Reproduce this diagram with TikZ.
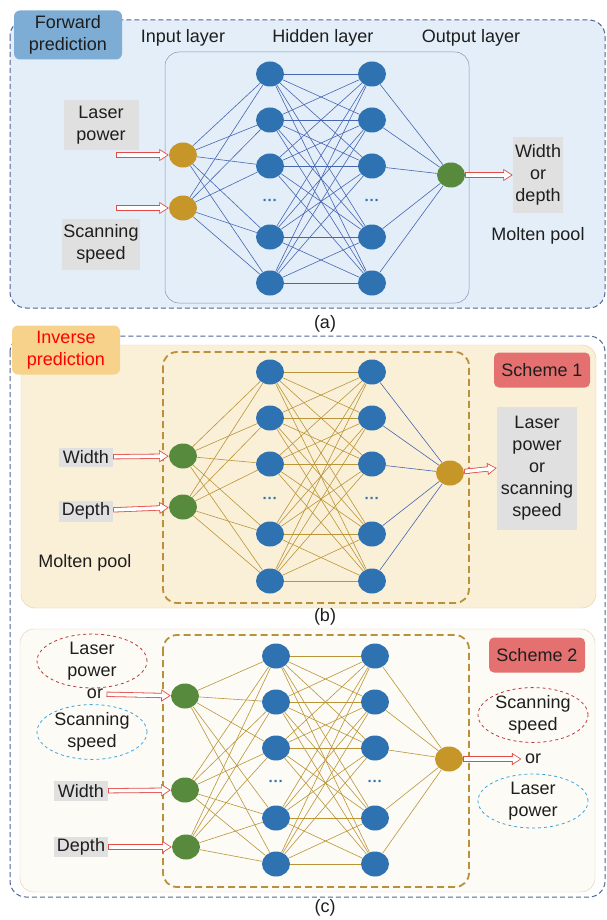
\documentclass[tikz,border=0pt]{standalone}
\usepackage{fontspec}
\setmainfont{Liberation Sans}
\usetikzlibrary{shapes.geometric,arrows.meta}
\definecolor{nnblue}{RGB}{46,114,178}
\definecolor{nngold}{RGB}{198,150,40}
\definecolor{nngreen}{RGB}{88,138,62}
\definecolor{edgeblue}{RGB}{70,102,178}
\definecolor{edgegold}{RGB}{186,148,56}
\definecolor{frameblue}{RGB}{80,100,150}
\definecolor{panelblue}{RGB}{227,238,248}
\definecolor{tagblue}{RGB}{125,172,212}
\definecolor{panelcream}{RGB}{250,240,216}
\definecolor{tagorange}{RGB}{246,210,138}
\definecolor{panelwhite}{RGB}{253,251,246}
\definecolor{framebrown}{RGB}{185,145,60}
\definecolor{framebeige}{RGB}{228,202,168}
\definecolor{schemered}{RGB}{228,112,112}
\definecolor{boxgray}{RGB}{224,224,224}
\definecolor{arrowred}{RGB}{225,75,70}
\definecolor{ellred}{RGB}{190,55,55}
\definecolor{ellblue}{RGB}{60,165,215}
\definecolor{txt}{RGB}{30,30,30}

\tikzset{
  neuron/.style={ellipse, minimum width=28pt, minimum height=25pt, inner sep=0pt},
  hid/.style={neuron, fill=nnblue},
  gold/.style={neuron, fill=nngold},
  grn/.style={neuron, fill=nngreen},
  bedge/.style={edgeblue, line width=0.6pt},
  gedge/.style={edgegold, line width=0.6pt},
  inarrow/.style={draw=white, line width=3.6pt, shorten <=0.8pt, shorten >=1.5pt,
    -{Triangle[length=7.2pt, width=8.6pt]},
    preaction={draw=arrowred, line width=5.2pt, shorten <=0pt, shorten >=0pt,
      -{Triangle[length=9.5pt, width=11.5pt]}}},
  graybox/.style={fill=boxgray, align=center, inner sep=1pt},
  tag/.style={rounded corners=6pt, minimum width=108pt, minimum height=49pt, align=center},
  scheme/.style={fill=schemered, rounded corners=5pt, minimum width=96pt, minimum height=35pt},
  dashell/.style={ellipse, dashed, line width=0.8pt, minimum width=110pt, align=center, inner sep=0pt},
  netbox/.style={draw=framebrown, line width=1.8pt, dash pattern=on 7pt off 4pt, rounded corners=14pt},
  outer/.style={draw=frameblue, line width=1pt, dash pattern=on 5pt off 3pt, rounded corners=16pt},
  dots/.style={text=nnblue, font=\fontsize{15}{15}\selectfont\bfseries, inner sep=0pt}
}

\begin{document}
\begin{tikzpicture}[x=1pt, y=-1pt, every node/.style={text=txt, font=\fontsize{18}{22}\selectfont}]
  \useasboundingbox (0,0) rectangle (606,920);

  % Panels
  \draw[outer, fill=panelblue] (10,20) rectangle (605,308);
  \draw[frameblue!70, rounded corners=14pt, line width=0.5pt] (165,52) rectangle (469,303);
  \draw[outer] (10,336) rectangle (605,897);
  \draw[framebeige, fill=panelcream, rounded corners=14pt] (21,345) rectangle (596,608);
  \draw[framebeige, fill=panelwhite, rounded corners=14pt] (20,629) rectangle (595,892);
  \draw[netbox] (163,352) rectangle (469,603);
  \draw[netbox] (163,635) rectangle (469,887);

  \node[tag, fill=tagblue] (fwd) at (68,35) {Forward\\prediction};
  \node[tag, fill=tagorange, text=red] (inv) at (66,350) {Inverse\\prediction};

  % (a) forward prediction
  \node (tin) at (183,38) {Input layer};
  \node (thid) at (323,38) {Hidden layer};
  \node (tout) at (471,38) {Output layer};
  \node[gold] (ain1) at (183,155) {};
  \node[gold] (ain2) at (183,208) {};
  \foreach \k/\y in {1/74,2/120,3/166,4/237,5/283} {
    \node[hid] (a1-\k) at (270,\y) {};
    \node[hid] (a2-\k) at (372,\y) {};
  }
  \node[dots] (adot1) at (270,202) {···};
  \node[dots] (adot2) at (372,202) {···};
  \node[grn] (aout) at (451,175) {};
  \node[graybox, minimum width=75pt, minimum height=50pt] (a-lp) at (101,125) {Laser\\power};
  \node[graybox, minimum width=75pt, minimum height=51pt] (a-ss) at (101,244) {Scanning\\speed};
  \node[graybox, minimum width=50pt, minimum height=76pt] (a-res) at (538,175) {Width\\or\\depth};
  \node (a-mp) at (538,236) {Molten pool};
  \coordinate (a-s1) at (116,155);
  \coordinate (a-s2) at (116,208);
  \node (lba) at (325,324) {(a)};

  \foreach \i in {1,2} \foreach \k in {1,...,5} \draw[bedge] (ain\i) -- (a1-\k);
  \foreach \k in {1,...,5} \foreach \m in {1,...,5} \draw[bedge] (a1-\k) -- (a2-\m);
  \foreach \k in {1,...,5} \draw[bedge] (a2-\k) -- (aout);
  \draw[inarrow] (a-s1) -- (ain1);
  \draw[inarrow] (a-s2) -- (ain2);
  \draw[inarrow] (aout) -- (a-res.west);

  % (b) inverse prediction, scheme 1
  \node[grn] (bin1) at (183,456) {};
  \node[grn] (bin2) at (183,507) {};
  \foreach \k/\y in {1/372,2/418,3/464,4/534,5/581} {
    \node[hid] (b1-\k) at (270,\y) {};
    \node[hid] (b2-\k) at (372,\y) {};
  }
  \node[dots] (bdot1) at (270,500) {···};
  \node[dots] (bdot2) at (372,500) {···};
  \node[gold] (bout) at (450,473) {};
  \node[scheme] (sch1) at (542,370) {Scheme 1};
  \node[graybox, minimum width=80pt, minimum height=123pt] (b-res) at (537,468) {Laser\\power\\or\\scanning\\speed};
  \node[graybox, minimum width=54pt, minimum height=19pt] (b-w) at (86,457) {Width};
  \node[graybox, minimum width=54pt, minimum height=21pt] (b-d) at (86,511) {Depth};
  \node (b-mp) at (85,563) {Molten pool};
  \node (lbb) at (325,617) {(b)};

  \foreach \i in {1,2} \foreach \k in {1,...,5} \draw[gedge] (bin\i) -- (b1-\k);
  \foreach \k in {1,...,5} \foreach \m in {1,...,5} \draw[gedge] (b1-\k) -- (b2-\m);
  \foreach \k in {1,...,5} \draw[bedge] (b2-\k) -- (bout);
  \draw[inarrow] (b-w) -- (bin1);
  \draw[inarrow] (b-d) -- (bin2);
  \draw[inarrow] (bout) -- (b-res.west);

  % (c) inverse prediction, scheme 2
  \node[grn] (cin1) at (185,696) {};
  \node[grn] (cin2) at (185,790) {};
  \node[grn] (cin3) at (186,847) {};
  \foreach \k/\y in {1/656,2/702,3/748,4/818,5/864} {
    \node[hid] (c1-\k) at (276,\y) {};
    \node[hid] (c2-\k) at (375,\y) {};
  }
  \node[dots] (cdot1) at (276,783) {···};
  \node[dots] (cdot2) at (375,783) {···};
  \node[gold] (cout) at (449,759) {};
  \node[scheme] (sch2) at (537,655) {Scheme 2};
  \node[dashell, draw=ellred, minimum height=46pt] (c-lp) at (92,661) {Laser\\power};
  \node (c-or) at (95,694) {or};
  \node[dashell, draw=ellblue, minimum height=51pt] (c-ss) at (92,732) {Scanning\\speed};
  \node[graybox, minimum width=54pt, minimum height=20pt] (c-w) at (81,791) {Width};
  \node[graybox, minimum width=54pt, minimum height=20pt] (c-d) at (81,847) {Depth};
  \node[dashell, draw=ellred, minimum height=54pt] (c-ss2) at (533,715) {Scanning\\speed};
  \node (c-or2) at (533,759) {or};
  \node[dashell, draw=ellblue, minimum height=54pt] (c-lp2) at (533,801) {Laser\\power};
  \node (lbc) at (325,908) {(c)};

  \foreach \i in {1,2,3} \foreach \k in {1,...,5} \draw[gedge] (cin\i) -- (c1-\k);
  \foreach \k in {1,...,5} \foreach \m in {1,...,5} \draw[gedge] (c1-\k) -- (c2-\m);
  \foreach \k in {1,...,5} \draw[gedge] (c2-\k) -- (cout);
  \draw[inarrow] (c-or) -- (cin1);
  \draw[inarrow] (c-w) -- (cin2);
  \draw[inarrow] (c-d) -- (cin3);
  \draw[inarrow] (cout) -- (c-or2);
\end{tikzpicture}
\end{document}
